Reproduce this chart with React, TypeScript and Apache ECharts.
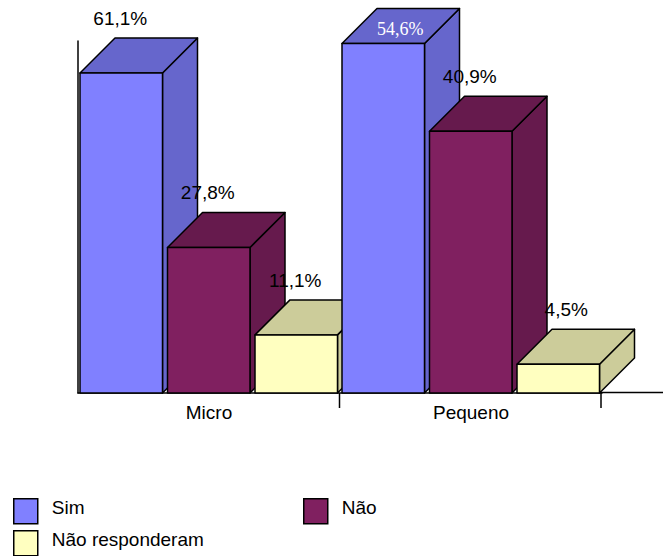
import React, { useEffect, useRef } from "react";
import * as echarts from "echarts";

const categories = ["Micro", "Pequeno"];
const respondents = [18, 22];
const simPercent = [61.1, 54.6];
const naoPercent = [27.8, 40.9];
const semRespostaPercent = [11.1, 4.5];

const SANS = '"Liberation Sans", Arial, sans-serif';
const SERIF = '"Liberation Serif", "Times New Roman", serif';
const DEPTH = 35;
const BAR_WIDTH = 82.5;
const BAR_STEP = 87.5;
const BAND_PAD = 2;
const INK = "#000000";
const FONT_SIZE = 19;

// Legend swatch sits low in its slot so the caption rides above the swatch's centre
const SWATCH_ICON = "path://M0 0L0 0M0 8H24V33H0Z";

const seriesDefs = [
  { name: "Sim", values: simPercent, front: "#8080FF", shade: "#6666CC" },
  { name: "Não", values: naoPercent, front: "#802060", shade: "#661A4D" },
  { name: "Não responderam", values: semRespostaPercent, front: "#FFFFC0", shade: "#CCCC9A" },
];

// Hand-placed labels: "series:category" -> pixel shift from the default spot above the bar
const labelShifts: Record<string, [number, number]> = {
  "0:1": [18, 40],
  "2:1": [9, 0],
};

const formatPercent = (p: number) => String(p).replace(".", ",") + "%";

function makeRenderItem(seriesIndex: number, front: string, shade: string) {
  return (_params: any, api: any) => {
    const cat = api.value(0);
    const base = api.coord([cat, 0]);
    const top = api.coord([cat, api.value(1)]);
    const bandWidth = api.size([1, 0])[0];
    const x0 = base[0] - bandWidth / 2 + BAND_PAD + seriesIndex * BAR_STEP;
    const x1 = x0 + BAR_WIDTH;
    const yTop = top[1];
    const yBase = base[1];
    const z2 = cat * 10 + seriesIndex;
    const edge = { stroke: INK, lineWidth: 1.5, lineJoin: "round" };
    const [dx, dy] = labelShifts[`${seriesIndex}:${cat}`] || [0, 0];
    const moved = seriesIndex === 0 && cat === 1;
    return {
      type: "group",
      silent: true,
      children: [
        {
          type: "polygon",
          z2,
          shape: {
            points: [
              [x1, yTop],
              [x1 + DEPTH, yTop - DEPTH],
              [x1 + DEPTH, yBase - DEPTH],
              [x1, yBase],
            ],
          },
          style: { fill: shade, ...edge },
        },
        {
          type: "polygon",
          z2,
          shape: {
            points: [
              [x0, yTop],
              [x0 + DEPTH, yTop - DEPTH],
              [x1 + DEPTH, yTop - DEPTH],
              [x1, yTop],
            ],
          },
          style: { fill: shade, ...edge },
        },
        {
          type: "rect",
          z2,
          shape: { x: x0, y: yTop, width: BAR_WIDTH, height: yBase - yTop },
          style: { fill: front, ...edge },
        },
        {
          type: "text",
          z2: 100,
          style: {
            x: (x0 + x1) / 2 - 1 + dx,
            y: yTop - 54.5 + dy,
            text: formatPercent(api.value(2)),
            fill: moved ? "#FFFFFF" : INK,
            font: moved ? `18px ${SERIF}` : `${FONT_SIZE}px ${SANS}`,
            textAlign: "center",
            textVerticalAlign: "middle",
          },
        },
      ],
    };
  };
}

function legendEntry(name: string, left: number, top: number) {
  return {
    data: [{ name, icon: SWATCH_ICON }],
    left,
    top,
    padding: 0,
    itemWidth: 24,
    itemHeight: 33,
    selectedMode: false,
    itemStyle: { borderColor: INK, borderWidth: 1.5 },
    textStyle: {
      fontFamily: SANS,
      fontSize: FONT_SIZE,
      color: INK,
      padding: [0, 0, 0, 9],
    },
  };
}

export default function App() {
  const ref = useRef<HTMLDivElement>(null);

  useEffect(() => {
    document.body.style.margin = "0";
    const chart = echarts.init(ref.current!, undefined, { renderer: "svg" });
    chart.setOption({
      animation: false,
      backgroundColor: "#FFFFFF",
      grid: { left: 78, top: 41, width: 524, height: 352 },
      xAxis: {
        type: "category",
        data: categories,
        axisLine: { lineStyle: { color: INK, width: 1.5 } },
        axisTick: { show: false },
        axisLabel: { fontFamily: SANS, fontSize: FONT_SIZE, color: INK, margin: 10 },
      },
      yAxis: {
        type: "value",
        min: 0,
        max: 12.1,
        axisLine: { show: true, lineStyle: { color: INK, width: 1.5 } },
        axisTick: { show: false },
        axisLabel: { show: false },
        splitLine: { show: false },
      },
      legend: [
        legendEntry("Sim", 13, 490),
        legendEntry("Não", 303, 490),
        legendEntry("Não responderam", 13, 522),
      ],
      // Boundary ticks and the floor line running past the last group
      graphic: [
        { type: "line", z: 10, shape: { x1: 339.5, y1: 393, x2: 339.5, y2: 408 }, style: { stroke: INK, lineWidth: 1.5 } },
        { type: "line", z: 10, shape: { x1: 601, y1: 393, x2: 601, y2: 408 }, style: { stroke: INK, lineWidth: 1.5 } },
        { type: "line", z: 10, shape: { x1: 600, y1: 392.5, x2: 663, y2: 392.5 }, style: { stroke: INK, lineWidth: 1.5 } },
      ],
      series: seriesDefs.map((def, i) => ({
        type: "custom",
        name: def.name,
        coordinateSystem: "cartesian2d",
        clip: false,
        itemStyle: { color: def.front },
        renderItem: makeRenderItem(i, def.front, def.shade),
        // Bar height is the labelled share of the group's respondents
        data: def.values.map((p, c) => [c, (p * respondents[c]) / 100, p]),
        encode: { x: 0, y: 1 },
      })),
    });
    return () => chart.dispose();
  }, []);

  return <div ref={ref} style={{ width: 663, height: 556 }} />;
}
